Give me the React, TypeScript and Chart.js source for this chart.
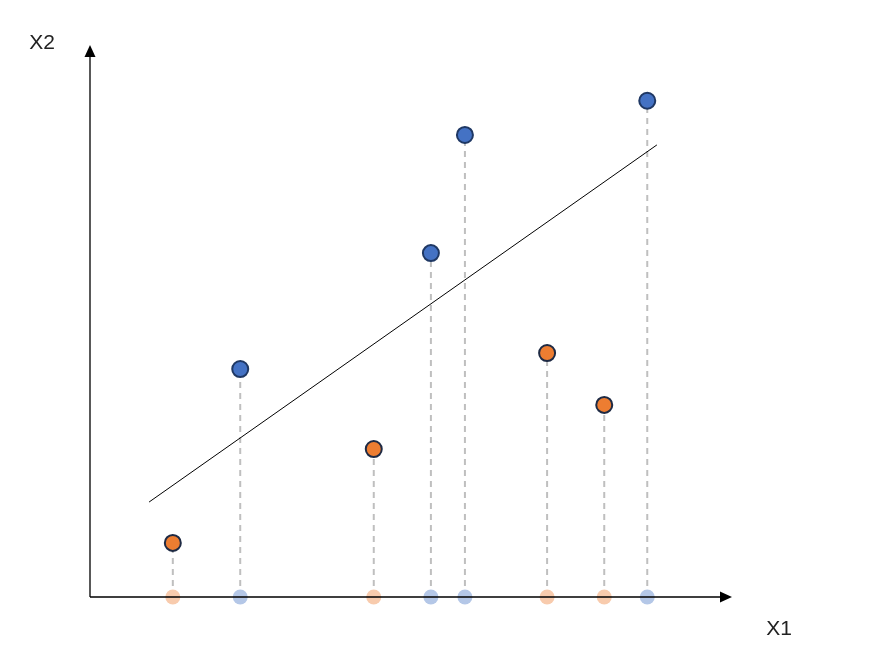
import React, { useEffect, useRef } from "react";
import { Chart, registerables } from "chart.js";

Chart.register(...registerables);

const orangeX = [12.9, 44.2, 71.2, 80.1];
const orangeY = [9.8, 26.8, 44.2, 34.8];
const blueX = [23.4, 53.1, 58.4, 86.8];
const blueY = [41.3, 62.3, 83.7, 89.9];
const fitX = [9.2, 88.3];
const fitY = [17.2, 81.9];
const axisLabels = ["X1", "X2"];

const axesPlugin = {
  id: "arrowAxes",
  afterDraw(chart: any) {
    const { ctx } = chart;
    const xs = chart.scales.x;
    const ys = chart.scales.y;
    const x0 = xs.getPixelForValue(0);
    const y0 = ys.getPixelForValue(0);
    const xEnd = xs.getPixelForValue(100);
    const yEnd = ys.getPixelForValue(100);
    ctx.save();
    ctx.strokeStyle = "#000";
    ctx.fillStyle = "#000";
    ctx.lineWidth = 1.3;
    ctx.beginPath();
    ctx.moveTo(x0, y0);
    ctx.lineTo(xEnd - 10, y0);
    ctx.moveTo(x0, y0);
    ctx.lineTo(x0, yEnd + 10);
    ctx.stroke();
    ctx.beginPath();
    ctx.moveTo(xEnd, y0);
    ctx.lineTo(xEnd - 12, y0 - 5.5);
    ctx.lineTo(xEnd - 12, y0 + 5.5);
    ctx.closePath();
    ctx.fill();
    ctx.beginPath();
    ctx.moveTo(x0, yEnd);
    ctx.lineTo(x0 - 5.5, yEnd + 12);
    ctx.lineTo(x0 + 5.5, yEnd + 12);
    ctx.closePath();
    ctx.fill();
    ctx.fillStyle = "#222";
    ctx.font = "21px 'Liberation Sans', sans-serif";
    ctx.textAlign = "center";
    ctx.textBaseline = "middle";
    ctx.fillText(axisLabels[0], xEnd + 47, y0 + 32);
    ctx.fillText(axisLabels[1], x0 - 48, yEnd - 2);
    ctx.restore();
  },
};

export default function App() {
  const ref = useRef<HTMLCanvasElement>(null);
  useEffect(() => {
    document.body.style.margin = "0";
    const stems: any[] = [];
    orangeX.forEach((x, i) => stems.push({ x, y: orangeY[i] }));
    blueX.forEach((x, i) => stems.push({ x, y: blueY[i] }));
    const stemSets = stems.map((p) => ({
      type: "line" as const,
      data: [
        { x: p.x, y: 0 },
        { x: p.x, y: p.y },
      ],
      borderColor: "#BFBFBF",
      borderWidth: 2,
      borderDash: [6, 5],
      pointRadius: 0,
      order: 5,
      clip: false as any,
    }));
    const chart = new Chart(ref.current!, {
      type: "scatter",
      data: {
        datasets: [
          ...stemSets,
          {
            type: "line",
            data: fitX.map((x, i) => ({ x, y: fitY[i] })),
            borderColor: "#000",
            borderWidth: 1,
            pointRadius: 0,
            order: 4,
          } as any,
          {
            data: orangeX.map((x) => ({ x, y: 0 })),
            backgroundColor: "#F8CBAD",
            borderWidth: 0,
            pointRadius: 7.5,
            order: 3,
            clip: false,
          } as any,
          {
            data: blueX.map((x) => ({ x, y: 0 })),
            backgroundColor: "#B4C7E7",
            borderWidth: 0,
            pointRadius: 7.5,
            order: 3,
            clip: false,
          } as any,
          {
            data: orangeX.map((x, i) => ({ x, y: orangeY[i] })),
            backgroundColor: "#ED7D31",
            borderColor: "#1E2A44",
            borderWidth: 2,
            pointRadius: 8,
            order: 1,
            clip: false,
          } as any,
          {
            data: blueX.map((x, i) => ({ x, y: blueY[i] })),
            backgroundColor: "#4472C4",
            borderColor: "#1F3864",
            borderWidth: 2,
            pointRadius: 8,
            order: 1,
            clip: false,
          } as any,
        ],
      },
      options: {
        animation: false,
        responsive: false,
        layout: { padding: { left: 90, right: 150, top: 45, bottom: 59 } },
        plugins: { legend: { display: false }, tooltip: { enabled: false } },
        scales: {
          x: { type: "linear", min: 0, max: 100, display: false },
          y: { type: "linear", min: 0, max: 100, display: false },
        },
      },
      plugins: [axesPlugin],
    });
    return () => chart.destroy();
  }, []);
  return (
    <div style={{ width: 882, height: 656, background: "#fff" }}>
      <canvas ref={ref} width={882} height={656} style={{ display: "block" }} />
    </div>
  );
}
